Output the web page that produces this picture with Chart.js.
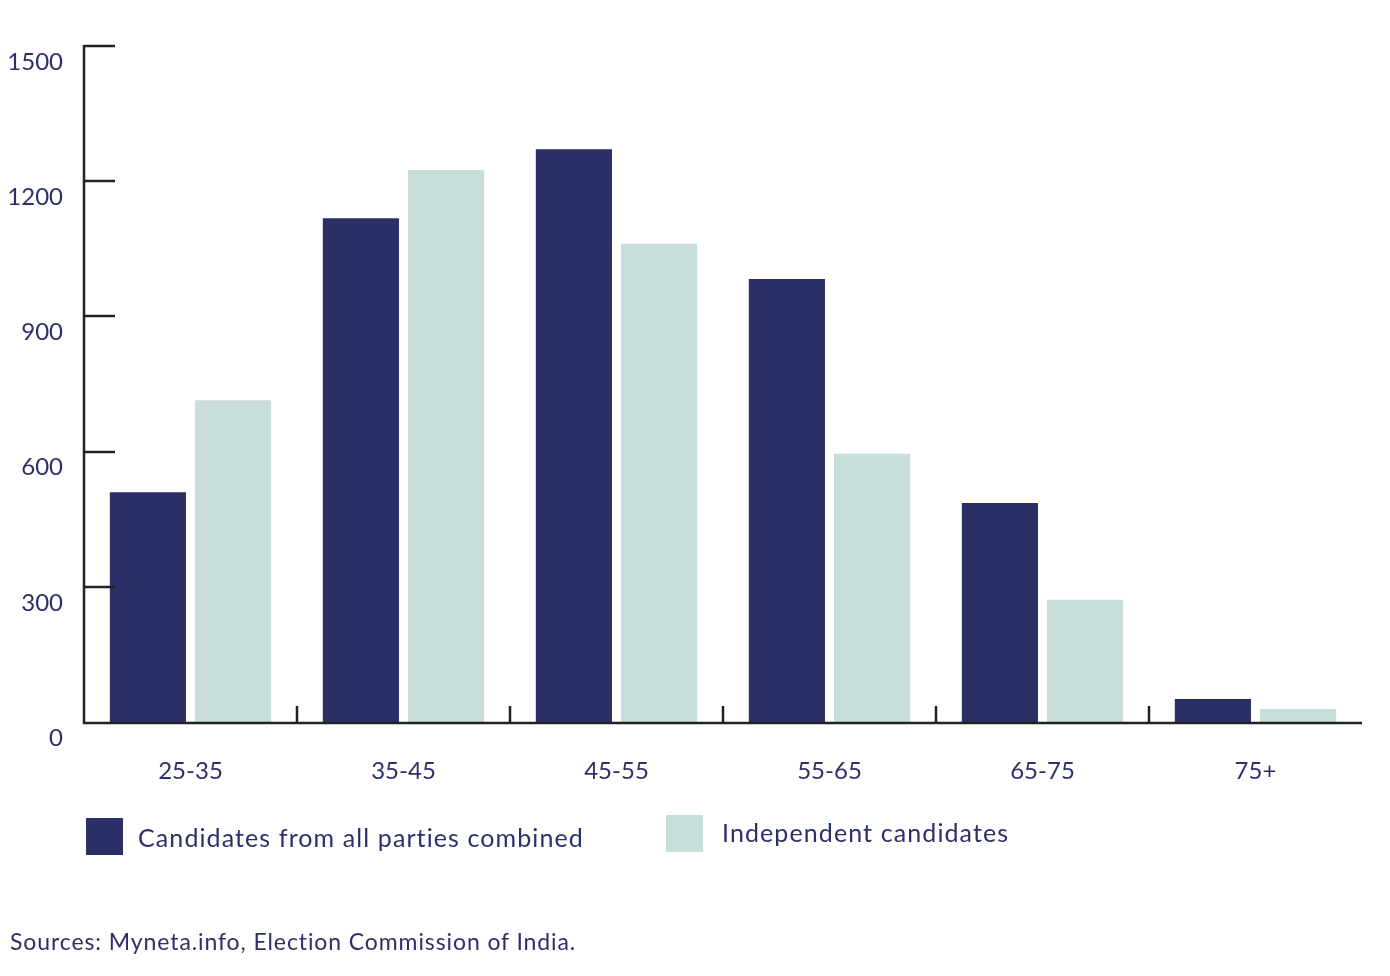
<!DOCTYPE html>
<html>
<head>
<meta charset="utf-8">
<script src="https://cdn.jsdelivr.net/npm/chart.js@4"></script>
<style>
  html, body { margin: 0; padding: 0; background: #fff; }
  body { width: 1390px; height: 976px; position: relative; overflow: hidden; font-family: Lato, "Noto Sans", sans-serif; color: #2b3068; }
  #wrap { position: absolute; left: 0; top: 0; width: 1390px; height: 976px; }
  .leg { position: absolute; display: flex; align-items: center; font-size: 25px; letter-spacing: 1.1px; }
  .box { width: 37px; height: 37px; margin-right: 15px; }
  #src { position: absolute; left: 10px; top: 927px; font-size: 23px; letter-spacing: 0.9px; }
</style>
</head>
<body>
<div id="wrap"><canvas id="c"></canvas></div>
<div class="leg" style="left:86px; top:818px;"><div class="box" style="background:#2a3066"></div><span>Candidates from all parties combined</span></div>
<div class="leg" style="left:666px; top:815px;"><div class="box" style="background:#c7dedb; margin-right:19px"></div><span style="margin-top:-4px">Independent candidates</span></div>
<div id="src">Sources: Myneta.info, Election Commission of India.</div>
<script>
const categories = ["25-35", "35-45", "45-55", "55-65", "65-75", "75+"];
const partySeries = [510, 1118, 1271, 983, 486, 51];
const independentSeries = [714, 1225, 1061, 595, 271, 29];
const yTicks = [0, 300, 600, 900, 1200, 1500];

const textColor = '#2b3068';
const axisColor = '#222222';

const innerTicks = {
  id: 'innerTicks',
  afterDatasetsDraw(chart) {
    const ctx = chart.ctx;
    const a = chart.chartArea;
    const y = chart.scales.y, x = chart.scales.x;
    ctx.save();
    ctx.strokeStyle = axisColor;
    ctx.lineWidth = 2.5;
    ctx.beginPath();
    yTicks.forEach(v => {
      if (v === 0) return;
      const py = Math.round(y.getPixelForValue(v));
      ctx.moveTo(a.left, py);
      ctx.lineTo(a.left + 31, py);
    });
    for (let i = 0; i < categories.length - 1; i++) {
      const px = Math.round((x.getPixelForValue(i) + x.getPixelForValue(i + 1)) / 2);
      ctx.moveTo(px, a.bottom);
      ctx.lineTo(px, a.bottom - 16);
    }
    ctx.stroke();
    ctx.beginPath();
    ctx.moveTo(a.left, a.top - 1);
    ctx.lineTo(a.left, a.bottom + 1);
    ctx.lineTo(a.right, a.bottom + 1);
    ctx.stroke();
    ctx.restore();
  }
};

new Chart(document.getElementById('c'), {
  type: 'bar',
  data: {
    labels: categories,
    datasets: [
      { label: 'Candidates from all parties combined', data: partySeries, backgroundColor: '#2a3066', categoryPercentage: 0.8, barPercentage: 0.894 },
      { label: 'Independent candidates', data: independentSeries, backgroundColor: '#c7dedb', categoryPercentage: 0.8, barPercentage: 0.894 }
    ]
  },
  options: {
    responsive: true,
    maintainAspectRatio: false,
    animation: false,
    layout: { padding: { left: 0, top: 46, right: 28, bottom: 174 } },
    plugins: { legend: { display: false }, tooltip: { enabled: false } },
    scales: {
      x: {
        grid: { display: false, drawTicks: false },
        border: { display: false },
        ticks: { color: textColor, font: { family: 'Lato', size: 24 }, padding: 35 },
        afterFit(s) { s.height = 80; }
      },
      y: {
        min: 0, max: 1500,
        afterBuildTicks(s) { s.ticks = yTicks.map(v => ({ value: v })); },
        grid: { display: false, drawTicks: false },
        border: { display: false },
        ticks: { color: textColor, font: { family: 'Lato', size: 24 }, padding: 21, labelOffset: 16, callback: v => String(v) },
        afterFit(s) { s.width = 84; }
      }
    }
  },
  plugins: [innerTicks]
});
</script>
</body>
</html>
